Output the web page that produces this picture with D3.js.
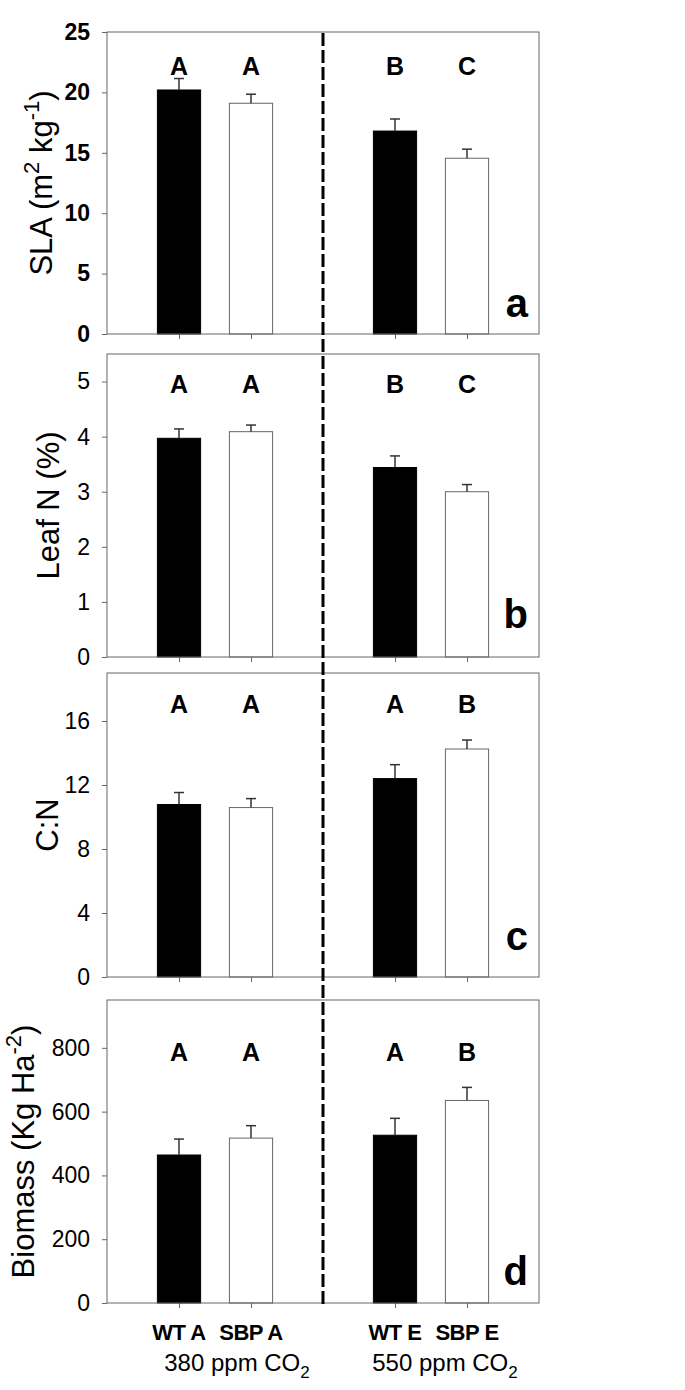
<!DOCTYPE html>
<html>
<head>
<meta charset="utf-8">
<script src="https://cdn.jsdelivr.net/npm/d3@7"></script>
<style>
body { margin: 0; background: #fff; }
text { font-family: Arial, "Liberation Sans", sans-serif; }
</style>
</head>
<body>
<div id="chart"></div>
<script>
// treatments and where they sit on the x scale (gap at 3 = CO2 divide)
var groups = ["WT A", "SBP A", "WT E", "SBP E"];
var groupPos = [1, 2, 4, 5];
var co2Labels = ["380 ppm CO", "550 ppm CO"];

var slaMean = [20.2, 19.1, 16.8, 14.55];
var slaErr = [0.95, 0.75, 1.0, 0.75];
var slaLetters = ["A", "A", "B", "C"];
var slaTicks = [0, 5, 10, 15, 20, 25];

var leafNMean = [3.97, 4.09, 3.44, 3.0];
var leafNErr = [0.17, 0.12, 0.21, 0.13];
var leafNLetters = ["A", "A", "B", "C"];
var leafNTicks = [0, 1, 2, 3, 4, 5];

var cnMean = [10.78, 10.59, 12.4, 14.25];
var cnErr = [0.75, 0.56, 0.87, 0.56];
var cnLetters = ["A", "A", "A", "B"];
var cnTicks = [0, 4, 8, 12, 16];

var bioMean = [464, 517, 526, 635];
var bioErr = [50, 39, 53, 41];
var bioLetters = ["A", "A", "A", "B"];
var bioTicks = [0, 200, 400, 600, 800];

var panelTags = ["a", "b", "c", "d"];

var width = 685, height = 1390;
var left = 107, right = 539;

var svg = d3.select("#chart").append("svg")
    .attr("width", width)
    .attr("height", height);

svg.append("rect").attr("width", width).attr("height", height).attr("fill", "#fff");

var x = d3.scaleLinear().domain([0, 6]).range([left, right]);
var barW = x(1.3) - x(0.7);

var panels = [
    {mean: slaMean, err: slaErr, letters: slaLetters, ticks: slaTicks, max: 25,
     top: 32, bottom: 334, letterY: 43, tagY: 17, bold: true, titleX: 52,
     title: [["SLA (m", 0], ["2", 1], [" kg", 0], ["-1", 1], [")", 0]]},
    {mean: leafNMean, err: leafNErr, letters: leafNLetters, ticks: leafNTicks, max: 5.5,
     top: 354, bottom: 657, letterY: 39, tagY: 29, bold: false, titleX: 59,
     title: [["Leaf N (%)", 0]]},
    {mean: cnMean, err: cnErr, letters: cnLetters, ticks: cnTicks, max: 19,
     top: 673, bottom: 977, letterY: 40, tagY: 27, bold: false, titleX: 58,
     title: [["C:N", 0]]},
    {mean: bioMean, err: bioErr, letters: bioLetters, ticks: bioTicks, max: 950,
     top: 1000, bottom: 1303, letterY: 61, tagY: 18, bold: false, titleX: 34,
     title: [["Biomass (Kg Ha", 0], ["-2", 1], [")", 0]]}
];

panels.forEach(function(p, i) {
    var y = d3.scaleLinear().domain([0, p.max]).range([p.bottom, p.top]);
    var g = svg.append("g");

    // y axis
    var ya = g.append("g")
        .attr("transform", "translate(" + left + ",0)")
        .call(d3.axisLeft(y).tickValues(p.ticks).tickSize(5).tickPadding(12)
            .tickFormat(d3.format("d")));
    ya.select(".domain").remove();
    ya.selectAll("line").attr("stroke", "#666");
    ya.selectAll("text")
        .attr("font-family", "Arial, 'Liberation Sans', sans-serif")
        .attr("font-size", 23)
        .attr("font-weight", p.bold ? "bold" : "normal")
        .attr("fill", "#000");

    // x ticks
    var xa = g.append("g")
        .attr("transform", "translate(0," + p.bottom + ")")
        .call(d3.axisBottom(x).tickValues(groupPos).tickSize(5).tickFormat(""));
    xa.select(".domain").remove();
    xa.selectAll("line").attr("stroke", "#666");

    // bars
    g.selectAll(".bar").data(p.mean).enter().append("rect")
        .attr("x", function(d, j) { return x(groupPos[j]) - barW / 2; })
        .attr("y", function(d) { return y(d); })
        .attr("width", barW)
        .attr("height", function(d) { return p.bottom - y(d); })
        .attr("fill", function(d, j) { return j % 2 === 0 ? "#000" : "#fff"; })
        .attr("stroke", function(d, j) { return j % 2 === 0 ? "#000" : "#666"; })
        .attr("stroke-width", 1);

    // error bars (upper only)
    p.mean.forEach(function(m, j) {
        var cx = x(groupPos[j]);
        g.append("line")
            .attr("x1", cx).attr("x2", cx)
            .attr("y1", y(m)).attr("y2", y(m + p.err[j]))
            .attr("stroke", "#333").attr("stroke-width", 1.5);
        g.append("line")
            .attr("x1", cx - 5).attr("x2", cx + 5)
            .attr("y1", y(m + p.err[j])).attr("y2", y(m + p.err[j]))
            .attr("stroke", "#333").attr("stroke-width", 1.5);
    });

    // frame
    g.append("rect")
        .attr("x", left).attr("y", p.top)
        .attr("width", right - left).attr("height", p.bottom - p.top)
        .attr("fill", "none").attr("stroke", "#666").attr("stroke-width", 1);

    // significance letters
    g.selectAll(".sig").data(p.letters).enter().append("text")
        .attr("x", function(d, j) { return x(groupPos[j]); })
        .attr("y", p.top + p.letterY)
        .attr("text-anchor", "middle")
        .attr("font-size", 25)
        .attr("font-weight", "bold")
        .text(function(d) { return d; });

    // panel tag
    g.append("text")
        .attr("x", right - 11)
        .attr("y", p.bottom - p.tagY)
        .attr("text-anchor", "end")
        .attr("font-size", 40)
        .attr("font-weight", "bold")
        .text(panelTags[i]);

    // y title
    var t = g.append("text")
        .attr("transform", "translate(" + p.titleX + "," + ((p.top + p.bottom) / 2) + ") rotate(-90)")
        .attr("text-anchor", "middle")
        .attr("font-size", 31);
    var raised = false;
    p.title.forEach(function(part) {
        var ts = t.append("tspan").text(part[0]);
        if (part[1] && !raised) { ts.attr("dy", -13).attr("font-size", 22); raised = true; }
        else if (!part[1] && raised) { ts.attr("dy", 13); raised = false; }
    });
});

// dashed divider between CO2 levels
svg.append("line")
    .attr("x1", x(3)).attr("x2", x(3))
    .attr("y1", 33).attr("y2", 1307)
    .attr("stroke", "#000")
    .attr("stroke-width", 3)
    .attr("stroke-dasharray", "13,4");

// group labels
svg.selectAll(".grp").data(groups).enter().append("text")
    .attr("x", function(d, j) { return x(groupPos[j]); })
    .attr("y", 1340)
    .attr("text-anchor", "middle")
    .attr("font-size", 22)
    .attr("font-weight", "bold")
    .attr("letter-spacing", -0.5)
    .text(function(d) { return d; });

// CO2 labels
co2Labels.forEach(function(lbl, k) {
    var t = svg.append("text")
        .attr("x", (x(groupPos[2 * k]) + x(groupPos[2 * k + 1])) / 2 + 22 - 8 * k)
        .attr("y", 1371)
        .attr("text-anchor", "middle")
        .attr("font-size", 24);
    t.append("tspan").text(lbl);
    t.append("tspan").attr("dy", 7).attr("font-size", 17).text("2");
});
</script>
</body>
</html>
